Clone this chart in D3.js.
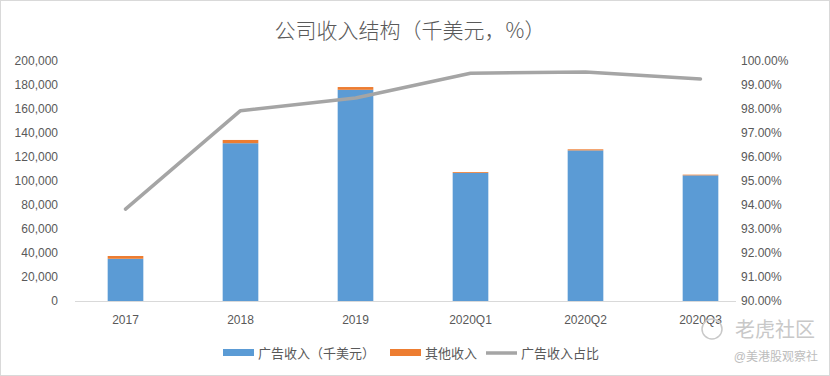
<!DOCTYPE html>
<html><head><meta charset="utf-8">
<script src="https://cdn.jsdelivr.net/npm/d3@7/dist/d3.min.js"></script>
<style>
html,body{margin:0;padding:0;background:#fff;}
svg{display:block;}
text{font-family:"Liberation Sans","Noto Sans CJK SC",sans-serif;fill:#595959;}
</style></head><body>
<script>
const categories = ["2017","2018","2019","2020Q1","2020Q2","2020Q3"];
const adRevenue = [35200, 131500, 176000, 106800, 125500, 104700];
const otherRevenue = [2300, 2700, 2300, 700, 900, 600];
const adShare = [93.83, 97.93, 98.46, 99.49, 99.54, 99.25];
const leftTicks = [0,20000,40000,60000,80000,100000,120000,140000,160000,180000,200000];
const rightTicks = [90,91,92,93,94,95,96,97,98,99,100];
const seriesNames = ["广告收入（千美元）","其他收入","广告收入占比"];
const title = "公司收入结构（千美元，%）";

const W = 830, H = 376;
const svg = d3.select("body").append("svg").attr("width", W).attr("height", H);
svg.append("rect").attr("x",0.5).attr("y",0.5).attr("width",W-1).attr("height",H-1)
  .attr("fill","#fff").attr("stroke","#d9d9d9");

const plot = {left: 68, right: 758, top: 61, bottom: 301};
const x = d3.scaleBand().domain(categories).range([plot.left, plot.right]).paddingInner(0.69).paddingOuter(0.345);
const yL = d3.scaleLinear().domain([0,200000]).range([plot.bottom, plot.top]);
const yR = d3.scaleLinear().domain([90,100]).range([plot.bottom, plot.top]);

svg.append("text").attr("x", 410).attr("y", 38).attr("text-anchor","middle")
  .style("font-size","21px").style("font-weight","300").style("fill","#595959")
  .style("font-family","'Noto Sans CJK SC',sans-serif").text(title);

// left axis
const axL = svg.append("g").attr("transform", `translate(${plot.left-10},0)`)
  .call(d3.axisLeft(yL).tickValues(leftTicks).tickSize(0).tickPadding(0).tickFormat(d3.format(",")));
axL.select(".domain").remove();
axL.selectAll("text").style("font-size","12px").attr("fill","#595959");

// right axis
const axR = svg.append("g").attr("transform", `translate(${plot.right-17},0)`)
  .call(d3.axisRight(yR).tickValues(rightTicks).tickSize(0).tickPadding(0).tickFormat(d => d.toFixed(2)+"%"));
axR.select(".domain").remove();
axR.selectAll("text").style("font-size","12px").attr("fill","#595959");

// baseline
svg.append("line").attr("x1",plot.left+7).attr("x2",plot.right-22)
  .attr("y1",yL(0)+0.5).attr("y2",yL(0)+0.5).attr("stroke","#d9d9d9").attr("stroke-width",1);

// x axis labels
const axX = svg.append("g").attr("transform", `translate(0,${plot.bottom+14})`)
  .call(d3.axisBottom(x).tickSize(0).tickPadding(0));
axX.select(".domain").remove();
axX.selectAll("text").style("font-size","12px").attr("fill","#595959");

// bars
svg.append("g").selectAll("rect").data(categories).join("rect")
  .attr("x", d => x(d)).attr("width", x.bandwidth())
  .attr("y", (d,i) => yL(adRevenue[i])).attr("height", (d,i) => yL(0)-yL(adRevenue[i]))
  .attr("fill","#5B9BD5");
svg.append("g").selectAll("rect").data(categories).join("rect")
  .attr("x", d => x(d)).attr("width", x.bandwidth())
  .attr("y", (d,i) => yL(adRevenue[i]+otherRevenue[i]))
  .attr("height", (d,i) => yL(adRevenue[i]) - yL(adRevenue[i]+otherRevenue[i]))
  .attr("fill","#ED7D31");

// line
const line = d3.line().x((d,i) => x(categories[i]) + x.bandwidth()/2).y(d => yR(d));
svg.append("path").datum(adShare).attr("d", line).attr("fill","none")
  .attr("stroke","#A5A5A5").attr("stroke-width",3.5).attr("stroke-linejoin","round").attr("stroke-linecap","round");

// legend
const lg = svg.append("g").style("font-family","'Noto Sans CJK SC',sans-serif");
const legendY = 353;
lg.append("rect").attr("x",223).attr("y",legendY-4).attr("width",31).attr("height",7).attr("fill","#5B9BD5");
lg.append("text").attr("x",258).attr("y",legendY+5).style("font-size","13px").text(seriesNames[0]);
lg.append("rect").attr("x",390).attr("y",legendY-4).attr("width",31).attr("height",7).attr("fill","#ED7D31");
lg.append("text").attr("x",425).attr("y",legendY+5).style("font-size","13px").text(seriesNames[1]);
lg.append("line").attr("x1",486).attr("x2",517).attr("y1",legendY).attr("y2",legendY)
  .attr("stroke","#A5A5A5").attr("stroke-width",3.5);
lg.append("text").attr("x",521).attr("y",legendY+5).style("font-size","13px").text(seriesNames[2]);

// watermark
const wm = svg.append("g").style("font-family","'Noto Sans CJK SC',sans-serif");
wm.append("circle").attr("cx",712).attr("cy",329).attr("r",10).attr("fill","none").attr("stroke","#c8c8c8").attr("stroke-width",1.5);
wm.append("text").attr("x",735).attr("y",337).style("font-size","20px").style("fill","#c8c8c8").text("老虎社区");
wm.append("text").attr("x",818).attr("y",361).attr("text-anchor","end").style("font-size","12px").style("fill","#bdbdbd").text("@美港股观察社");
</script>
</body></html>
